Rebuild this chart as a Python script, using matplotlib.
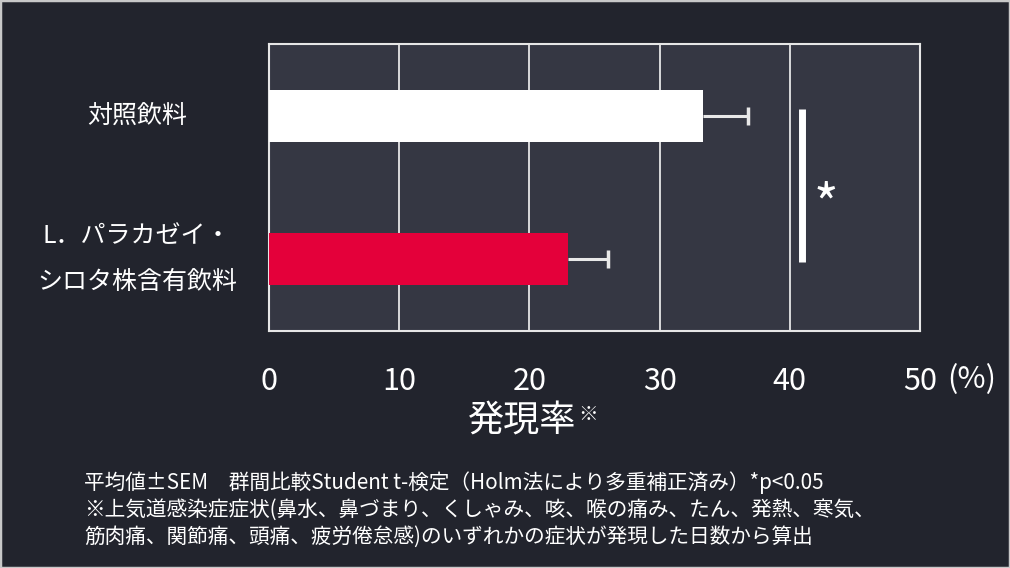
import matplotlib
matplotlib.use("Agg")
import matplotlib.pyplot as plt
from matplotlib.patches import Rectangle
from matplotlib.transforms import blended_transform_factory

plt.rcParams['font.family'] = ['Noto Sans CJK JP', 'DejaVu Sans']

# data
groups = ["対照飲料", "L．パラカゼイ・\nシロタ株含有飲料"]
rates = [33.3, 23.0]          # onset rate (%)
sem = [3.5, 3.0]
bar_colors = ["#ffffff", "#e4003a"]
xticks = [0, 10, 20, 30, 40, 50]
notes = [
    "平均値±SEM　群間比較Student t-検定（Holm法により多重補正済み）*p<0.05",
    "※上気道感染症症状(鼻水、鼻づまり、くしゃみ、咳、喉の痛み、たん、発熱、寒気、",
    "筋肉痛、関節痛、頭痛、疲労倦怠感)のいずれかの症状が発現した日数から算出",
]

bg = "#22242d"
panel = "#353743"

fig = plt.figure(figsize=(10.1, 5.68), dpi=100, facecolor=bg)
ax = fig.add_axes([269 / 1010, 1 - 331 / 568, 651 / 1010, 287 / 568])
ax.set_facecolor(panel)

ypos = list(range(len(groups)))
ends = [r + s for r, s in zip(rates, sem)]
ax.barh(ypos, rates, height=0.36, color=bar_colors, zorder=3)
# one-sided error bars (upper side only)
ax.hlines(ypos, rates, ends, color="#e8e8e8", linewidth=2.2, zorder=4)
ax.plot(ends, ypos, linestyle="none", marker="|", markersize=13,
        markeredgewidth=2.5, color="#e8e8e8", zorder=4)

ax.set_xlim(0, 50)
ax.set_ylim(1.5, -0.5)
ax.set_xticks(xticks)
ax.set_yticks([])
ax.grid(axis="x", color="#e6e6e6", linewidth=1.3, zorder=1)
ax.tick_params(axis="x", length=0, pad=25, labelsize=22, colors="white")
for s in ax.spines.values():
    s.set_color("#e6e6e6")
    s.set_linewidth(1.5)

# group labels
lbl_tr = blended_transform_factory(fig.transFigure, ax.transData)
for y, g in zip(ypos, groups):
    ax.text(137 / 1010, y, g, ha="center", va="center", fontsize=18, color="white",
            linespacing=2.0, transform=lbl_tr)

# significance bracket
ax.plot([40.9, 40.9], [-0.05, 1.02], color="white", linewidth=5, solid_capstyle="butt", zorder=5)
ax.text(42.8, 0.64, "*", ha="center", va="center", fontsize=38, color="white")

# unit and axis label
fig.text(947 / 1010, 1 - 380 / 568, "(%)", ha="left", va="center", fontsize=22, color="white")
fig.text(468 / 1010, 1 - 422 / 568, "発現率", ha="left", va="center", fontsize=26, color="white")
fig.text(578 / 1010, 1 - 414 / 568, "※", ha="left", va="center", fontsize=14, color="white")

# footnotes
for i, line in enumerate(notes):
    fig.text(84 / 1010, 1 - (483 + 27 * i) / 568, line, ha="left", va="center",
             fontsize=14.9, color="white")

fig.patches.append(Rectangle((0, 0), 1, 1, transform=fig.transFigure, fill=False,
                             edgecolor="#c8c8c8", linewidth=2.5))

fig.savefig("out.png", dpi=100, facecolor=bg)
